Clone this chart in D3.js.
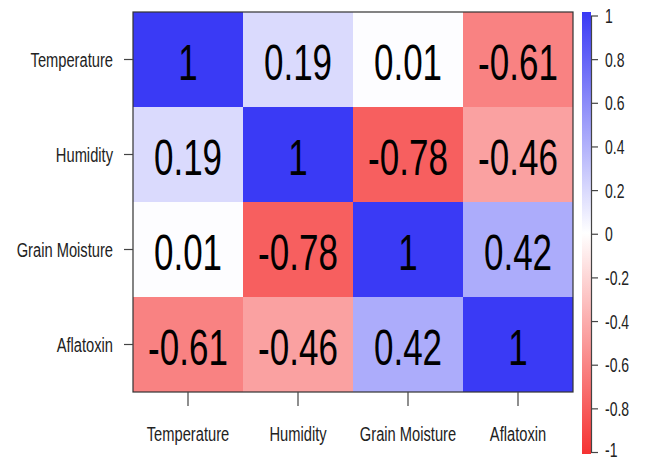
<!DOCTYPE html>
<html>
<head>
<meta charset="utf-8">
<script src="https://cdn.jsdelivr.net/npm/d3@7"></script>
<style>
  html, body { margin: 0; padding: 0; background: #fff; }
  svg { display: block; font-family: "Liberation Sans", Arial, sans-serif; }
</style>
</head>
<body>
<svg id="chart" width="645" height="462"></svg>
<script>
// Correlation matrix of storage variables
const variables = ["Temperature", "Humidity", "Grain Moisture", "Aflatoxin"];
const rowTemperature   = [1, 0.19, 0.01, -0.61];
const rowHumidity      = [0.19, 1, -0.78, -0.46];
const rowGrainMoisture = [0.01, -0.78, 1, 0.42];
const rowAflatoxin     = [-0.61, -0.46, 0.42, 1];
const legendTicks = [1, 0.8, 0.6, 0.4, 0.2, 0, -0.2, -0.4, -0.6, -0.8, -1];

const matrix = [rowTemperature, rowHumidity, rowGrainMoisture, rowAflatoxin];
const cells = [];
matrix.forEach((row, i) => row.forEach((v, j) => cells.push({ r: variables[i], c: variables[j], v })));

// plain hyphen-minus number labels
const fmt = v => String(v);

const svg = d3.select("#chart");
const squish = 0.7; // condensed text look

const plot = { left: 133, top: 12, right: 573, bottom: 392 };
const x = d3.scaleBand().domain(variables).range([plot.left, plot.right]);
const y = d3.scaleBand().domain(variables).range([plot.top, plot.bottom]);

// diverging red - white - blue palette
const color = d3.scaleLinear()
  .domain([-1, 0, 1])
  .range(["rgb(245,50,50)", "rgb(255,255,255)", "rgb(58,58,245)"])
  .interpolate(d3.interpolateRgb);

// cells
svg.append("g").selectAll("rect").data(cells).join("rect")
  .attr("x", d => x(d.c))
  .attr("y", d => y(d.r))
  .attr("width", x.bandwidth())
  .attr("height", y.bandwidth())
  .attr("fill", d => color(d.v));

// values
svg.append("g").selectAll("text").data(cells).join("text")
  .attr("transform", d => `translate(${x(d.c) + x.bandwidth() / 2},${y(d.r) + y.bandwidth() / 2 + 20}) scale(${squish},1)`)
  .attr("text-anchor", "middle")
  .attr("font-size", 50)
  .attr("fill", "#000")
  .text(d => fmt(d.v));

// frame
svg.append("rect")
  .attr("x", plot.left).attr("y", plot.top)
  .attr("width", plot.right - plot.left).attr("height", plot.bottom - plot.top)
  .attr("fill", "none").attr("stroke", "#333").attr("stroke-width", 1.2);

// bottom axis
const gx = svg.append("g")
  .attr("transform", `translate(0,${plot.bottom})`)
  .call(d3.axisBottom(x).tickSize(14).tickSizeOuter(0));
gx.select(".domain").remove();
gx.selectAll(".tick line").attr("stroke", "#444").attr("stroke-width", 1.2);
gx.selectAll(".tick text")
  .attr("y", null).attr("dy", null)
  .attr("transform", `translate(0,49) scale(${squish},1)`)
  .attr("font-size", 21).attr("fill", "#222");

// left axis
const gy = svg.append("g")
  .attr("transform", `translate(${plot.left},0)`)
  .call(d3.axisLeft(y).tickSize(9).tickSizeOuter(0));
gy.select(".domain").remove();
gy.selectAll(".tick line").attr("stroke", "#444").attr("stroke-width", 1.2);
gy.selectAll(".tick text")
  .attr("x", null).attr("dy", null)
  .attr("transform", `translate(-20,7.5) scale(${squish},1)`)
  .attr("font-size", 21).attr("fill", "#222");

// colour legend
const legend = { x: 582, w: 9, top: 12, bottom: 454 };
const ly = d3.scaleLinear().domain([-1, 1]).range([452, 15.5]);

const grad = svg.append("defs").append("linearGradient")
  .attr("id", "corrGrad").attr("x1", 0).attr("y1", 1).attr("x2", 0).attr("y2", 0);
grad.selectAll("stop").data(d3.range(-1, 1.0001, 0.1)).join("stop")
  .attr("offset", d => (d + 1) / 2)
  .attr("stop-color", d => color(d));

svg.append("rect")
  .attr("x", legend.x).attr("y", legend.top)
  .attr("width", legend.w).attr("height", legend.bottom - legend.top)
  .attr("fill", "url(#corrGrad)");

const gl = svg.append("g")
  .attr("transform", `translate(${legend.x + legend.w},0)`)
  .call(d3.axisRight(ly).tickValues(legendTicks).tickSize(7).tickSizeOuter(0).tickFormat(fmt));
gl.select(".domain").attr("stroke", "#444").attr("stroke-width", 1.2);
gl.selectAll(".tick line").attr("stroke", "#444").attr("stroke-width", 1.2);
gl.selectAll(".tick text")
  .attr("x", null).attr("dy", null)
  .attr("text-anchor", "start")
  .attr("transform", d => `translate(14,${d === -1 ? 4 : 7}) scale(${squish},1)`)
  .attr("font-size", 20).attr("fill", "#222");
</script>
</body>
</html>
